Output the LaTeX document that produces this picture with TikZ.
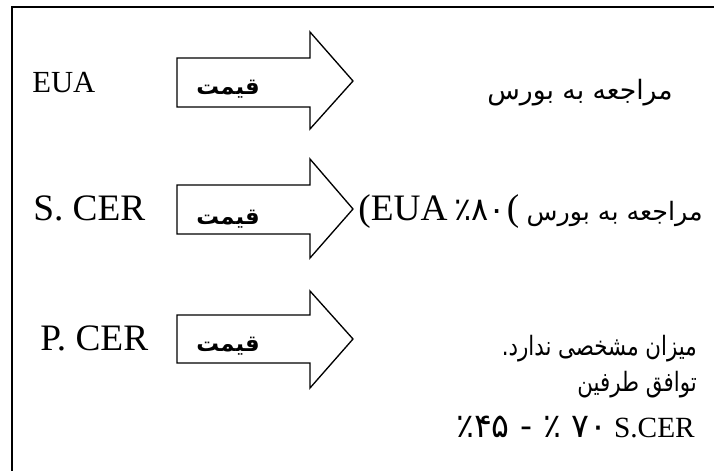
\documentclass[tikz,border=0pt]{standalone}
\usepackage{fontspec}
\setmainfont{Liberation Serif}
\newfontfamily\arfont[Script=Arabic]{DejaVu Sans}
\TeXXeTstate=1
\newcommand\priceArrow[5]{%
  \draw[arr] (177,#1) -- (310,#1) -- (310,#3) -- (353,#5) -- (310,#4) -- (310,#2) -- (177,#2) -- cycle;}
\begin{document}
\begin{tikzpicture}[x=0.75pt,y=-0.75pt,
  arr/.style={draw=black,line width=1pt,line join=miter,fill=white},
  frame/.style={line width=1.6pt},
  price/.style={anchor=base,inner sep=0pt,font=\arfont\bfseries\fontsize{17pt}{19pt}\selectfont},
  lefttxt/.style={anchor=base west,inner sep=0pt},
  righttxt/.style={anchor=base east,inner sep=0pt,font=\fontsize{20pt}{24pt}\selectfont}]
\useasboundingbox (0,0) rectangle (714,471);
\draw[frame] (12,480) -- (12,7) -- (720,7);
% arrows
\priceArrow{58}{107}{32}{129}{81}
\priceArrow{185}{234}{159}{258}{209}
\priceArrow{315}{363}{291}{388}{339}
\node[price] (p1) at (228,94) {\beginR قیمت\endR};
\node[price] (p2) at (228,224) {\beginR قیمت\endR};
\node[price] (p3) at (228,351) {\beginR قیمت\endR};
% left labels
\node[lefttxt,font=\fontsize{23pt}{27pt}\selectfont] (l1) at (32,92) {EUA};
\node[lefttxt,font=\fontsize{28pt}{32pt}\selectfont] (l2) at (33,220) {S. CER};
\node[lefttxt,font=\fontsize{28pt}{32pt}\selectfont] (l3) at (40,350) {P. CER};
% right texts
\node[righttxt] (r1) at (673,99) {{\arfont\beginR مراجعه به بورس\endR}};
\node[righttxt,font=\fontsize{19pt}{23pt}\selectfont] (r2) at (703,220) {{\arfont\beginR مراجعه به بورس\endR}};
\node[anchor=base,inner sep=0pt,font=\fontsize{28pt}{32pt}\selectfont] (r2p) at (513,220) {(};
\node[righttxt] (r2b) at (506,220) {{\fontsize{28pt}{32pt}\selectfont(EUA} {\fontsize{24pt}{28pt}\selectfont\arfont ٪۸۰}};
\node[righttxt] (r3) at (697,355) {\scalebox{0.8}[1]{\arfont\beginR میزان مشخصی ندارد.\endR}};
\node[righttxt] (r4) at (697,391) {\scalebox{0.8}[1]{\arfont\beginR توافق طرفین\endR}};
\node[righttxt] (r5) at (695,437) {{\fontsize{25pt}{29pt}\selectfont\arfont ٪۴۵ - ٪ ۷۰} {\fontsize{22pt}{26pt}\selectfont S.CER}};
\end{tikzpicture}
\end{document}
